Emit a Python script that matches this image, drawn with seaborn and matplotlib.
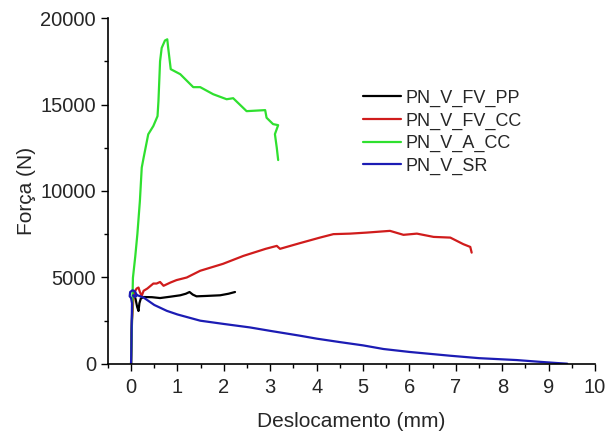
import numpy as np
import pandas as pd
import matplotlib
matplotlib.use("Agg")
import matplotlib.pyplot as plt
import seaborn as sns

# curves (deslocamento mm, forca N)
pp_x = [0.0, 0.01, 0.03, 0.06, 0.10, 0.13, 0.16, 0.18, 0.21, 0.27, 0.45, 0.625, 0.85, 1.06, 1.18, 1.26, 1.33, 1.41, 1.6, 1.92, 2.1, 2.24]
pp_y = [0, 1800, 3600, 4150, 3700, 3300, 3050, 3500, 3770, 3860, 3850, 3800, 3880, 3960, 4050, 4150, 4000, 3900, 3920, 3960, 4050, 4150]

cc_x = [0.0, 0.02, 0.05, 0.09, 0.12, 0.16, 0.19, 0.23, 0.27, 0.35, 0.48, 0.55, 0.625, 0.70, 0.85, 0.98, 1.2, 1.49, 1.98, 2.42, 2.9, 3.14, 3.21, 3.64, 4.07, 4.36, 4.72, 5.08, 5.58, 5.87, 6.16, 6.52, 6.88, 7.16, 7.31, 7.34]
cc_y = [0, 2500, 3800, 4220, 4350, 4410, 4150, 3930, 4220, 4350, 4640, 4640, 4730, 4510, 4700, 4840, 4990, 5380, 5780, 6240, 6650, 6820, 6650, 6980, 7300, 7500, 7530, 7590, 7690, 7460, 7530, 7340, 7300, 6920, 6760, 6430]

a_x = [0.0, 0.02, 0.04, 0.09, 0.136, 0.19, 0.23, 0.27, 0.37, 0.48, 0.57, 0.59, 0.625, 0.66, 0.73, 0.78, 0.80, 0.855, 1.06, 1.34, 1.49, 1.77, 2.06, 2.2, 2.49, 2.89, 2.92, 3.06, 3.17, 3.10, 3.14, 3.17]
a_y = [0, 2500, 4970, 6200, 7510, 9420, 11350, 11920, 13280, 13760, 14330, 15200, 17510, 18280, 18710, 18780, 18280, 17050, 16760, 16010, 16010, 15600, 15310, 15370, 14620, 14680, 14240, 13870, 13810, 13290, 12500, 11790]

sr_x = [0.0, 0.01, 0.02, 0.0, -0.03, -0.02, 0.03, 0.08, 0.12, 0.08, 0.04, 0.15, 0.27, 0.5, 0.77, 1.0, 1.49, 2.0, 2.56, 3.0, 3.64, 4.0, 4.5, 5.0, 5.44, 6.0, 6.88, 7.5, 8.31, 8.8, 9.17, 9.4]
sr_y = [0, 1500, 3500, 3800, 3900, 4150, 4250, 4200, 4000, 3850, 3950, 3950, 3830, 3400, 3060, 2850, 2490, 2300, 2100, 1900, 1620, 1450, 1250, 1060, 850, 680, 460, 320, 210, 110, 40, 0]

labels = ["PN_V_FV_PP", "PN_V_FV_CC", "PN_V_A_CC", "PN_V_SR"]
colors = ["#000000", "#d01c1c", "#2fe02f", "#1c1cb4"]

sns.set_style("ticks")
plt.rcParams["font.family"] = ["Liberation Sans", "DejaVu Sans"]

fig = plt.figure(figsize=(6.06, 4.34), dpi=100)
ax = fig.add_axes([0.178, 0.162, 0.804, 0.796])

series = [(pp_x, pp_y), (cc_x, cc_y), (a_x, a_y), (sr_x, sr_y)]
for (xs, ys), lab, col in zip(series, labels, colors):
    df = pd.DataFrame({"x": xs, "y": ys})
    sns.lineplot(data=df, x="x", y="y", sort=False, estimator=None, color=col, lw=1.6, label=lab, ax=ax)

ax.set_xlim(-0.5, 10)
ax.set_ylim(0, 20000)
ax.set_xticks(range(0, 11))
ax.set_xticks(np.arange(-0.5, 10.01, 0.5), minor=True)
ax.set_yticks([0, 5000, 10000, 15000, 20000])
ax.set_yticks(np.arange(0, 20001, 2500), minor=True)
ax.tick_params(which="major", length=5, width=1, labelsize=14.5, direction="out", color="black")
ax.tick_params(axis="x", which="major", pad=5)
ax.tick_params(which="minor", length=3, width=1, direction="out", color="black")
for s in ["top", "right"]:
    ax.spines[s].set_visible(False)
for s in ["left", "bottom"]:
    ax.spines[s].set_linewidth(1.2)
    ax.spines[s].set_color("black")

ax.set_xlabel("Deslocamento (mm)", fontsize=15, labelpad=11)
ax.set_ylabel("Força (N)", fontsize=15, labelpad=3)

ax.legend(loc="upper left", bbox_to_anchor=(0.49, 0.84), frameon=False, fontsize=13,
          handlelength=2.1, handletextpad=0.28, labelspacing=0.3)

fig.savefig("out.png", dpi=100)
